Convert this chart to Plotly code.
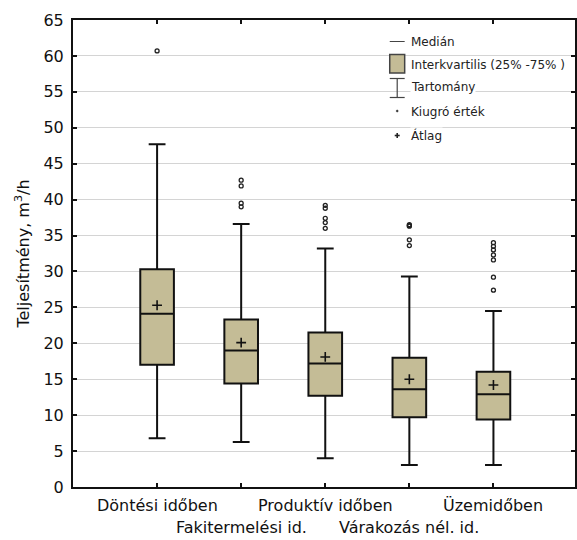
import plotly.graph_objects as go

# Box-plot statistics per work-time category (m3/h)
categories = ["Döntési időben", "Fakitermelési id.", "Produktív időben",
              "Várakozás nél. id.", "Üzemidőben"]
positions = [1, 2, 3, 4, 5]
q1 = [17.0, 14.4, 12.7, 9.7, 9.4]
median = [24.1, 19.0, 17.2, 13.6, 12.9]
q3 = [30.3, 23.3, 21.5, 18.0, 16.05]
whisker_low = [6.8, 6.26, 4.0, 3.06, 3.06]
whisker_high = [47.7, 36.6, 33.2, 29.3, 24.5]
means = [25.3, 20.1, 18.1, 15.0, 14.2]

# Outliers: category position and value
outlier_pos = [1,
               2, 2, 2, 2,
               3, 3, 3, 3, 3,
               4, 4, 4, 4, 4,
               5, 5, 5, 5, 5, 5, 5]
outlier_val = [60.7,
               42.7, 41.9, 39.5, 39.0,
               39.2, 38.8, 37.4, 36.8, 36.0,
               36.5, 36.3, 36.4, 34.4, 33.6,
               34.0, 33.5, 33.0, 32.3, 31.6, 29.2, 27.4]

y_ticks = list(range(0, 66, 5))

FONT = "DejaVu Sans"
BOX_FILL = "#c4bc96"
INK = "#111111"

fig = go.Figure()

fig.add_trace(go.Box(
    x=positions, q1=q1, median=median, q3=q3,
    lowerfence=whisker_low, upperfence=whisker_high,
    width=0.4, whiskerwidth=0.5,
    fillcolor=BOX_FILL, line=dict(color=INK, width=2),
    boxpoints=False, showlegend=False, hoverinfo="skip",
))

fig.add_trace(go.Scatter(
    x=outlier_pos, y=outlier_val, mode="markers",
    marker=dict(symbol="circle-open", size=4, color="#222222",
                line=dict(width=1.3, color="#222222")),
    showlegend=False, hoverinfo="skip",
))

fig.add_trace(go.Scatter(
    x=positions, y=means, mode="markers",
    marker=dict(symbol="cross-thin", size=7, color=INK,
                line=dict(width=1.6, color=INK)),
    showlegend=False, hoverinfo="skip",
))

# Plot-area geometry in pixels, used to place the hand-built legend
W, H = 577, 540
ML, MR, MT, MB = 73, 0, 20, 53
PW, PH = W - ML - MR, H - MT - MB


def px_x(px):
    return (px - ML) / PW


def px_y(py):
    return (MT + PH - py) / PH


def seg(x0, y0, x1, y1, width=1.2, color="#444444"):
    return dict(type="line", xref="paper", yref="paper",
                x0=px_x(x0), x1=px_x(x1), y0=px_y(y0), y1=px_y(y1),
                line=dict(color=color, width=width))


shapes = []
annotations = []

# Legend symbols: median line, quartile box, range bar, outlier dot, mean cross
shapes.append(seg(391, 41.5, 406, 41.5, width=1))
shapes.append(dict(type="rect", xref="paper", yref="paper",
                   x0=px_x(391), x1=px_x(406), y0=px_y(73), y1=px_y(54.5),
                   fillcolor=BOX_FILL, line=dict(color="#444444", width=1.5)))
shapes.append(seg(398.5, 78.5, 398.5, 97.5))
shapes.append(seg(391, 78.5, 406, 78.5))
shapes.append(seg(391, 97.5, 406, 97.5))
shapes.append(dict(type="circle", xref="paper", yref="paper",
                   x0=px_x(397.5), x1=px_x(399.5), y0=px_y(112), y1=px_y(110),
                   fillcolor="#333333", line=dict(color="#333333", width=0.5)))
shapes.append(seg(396, 135.5, 401, 135.5, width=1.6, color="#222222"))
shapes.append(seg(398.5, 133, 398.5, 138, width=1.6, color="#222222"))

legend_labels = ["Medián", "Interkvartilis (25% -75% )", "Tartomány",
                 "Kiugró érték", "Átlag"]
legend_rows = [41.5, 64.5, 87.5, 111.5, 135.5]
for label, yy in zip(legend_labels, legend_rows):
    annotations.append(dict(
        text=label, xref="paper", yref="paper", x=px_x(411), y=px_y(yy),
        xanchor="left", yanchor="middle", showarrow=False,
        bgcolor="white", borderpad=0,
        font=dict(family=FONT, size=12, color="#222222")))

# Category labels on two alternating rows
for i, (pos, cat) in enumerate(zip(positions, categories)):
    row_y = 505 if i % 2 == 0 else 527
    annotations.append(dict(
        text=cat, xref="x", yref="paper", x=pos, y=px_y(row_y),
        xanchor="center", yanchor="middle", showarrow=False,
        font=dict(family=FONT, size=16, color="#111111")))

fig.update_layout(
    width=W, height=H,
    margin=dict(l=ML, r=MR, t=MT, b=MB),
    paper_bgcolor="white", plot_bgcolor="white",
    font=dict(family=FONT, size=16, color="#111111"),
    shapes=shapes, annotations=annotations,
    showlegend=False,
)

fig.update_xaxes(
    range=[0, 5.97], tickvals=positions, showticklabels=False,
    ticks="inside", ticklen=4, tickwidth=1.5, tickcolor=INK,
    showline=True, linecolor=INK, linewidth=2, mirror="ticks",
    showgrid=False, zeroline=False,
)

fig.update_yaxes(
    range=[0, 65], tickvals=y_ticks,
    ticks="inside", ticklen=4, tickwidth=1.5, tickcolor=INK,
    showline=True, linecolor=INK, linewidth=2, mirror="ticks",
    showgrid=True, gridcolor="#d4d4d4", gridwidth=1.2, zeroline=False,
    tickfont=dict(family=FONT, size=16, color="#111111"),
    ticklabelstandoff=4,
    title=dict(text="Teljesítmény, m<sup>3</sup>/h",
               font=dict(family=FONT, size=16, color="#111111"), standoff=10),
)

fig.write_html("out.html")
